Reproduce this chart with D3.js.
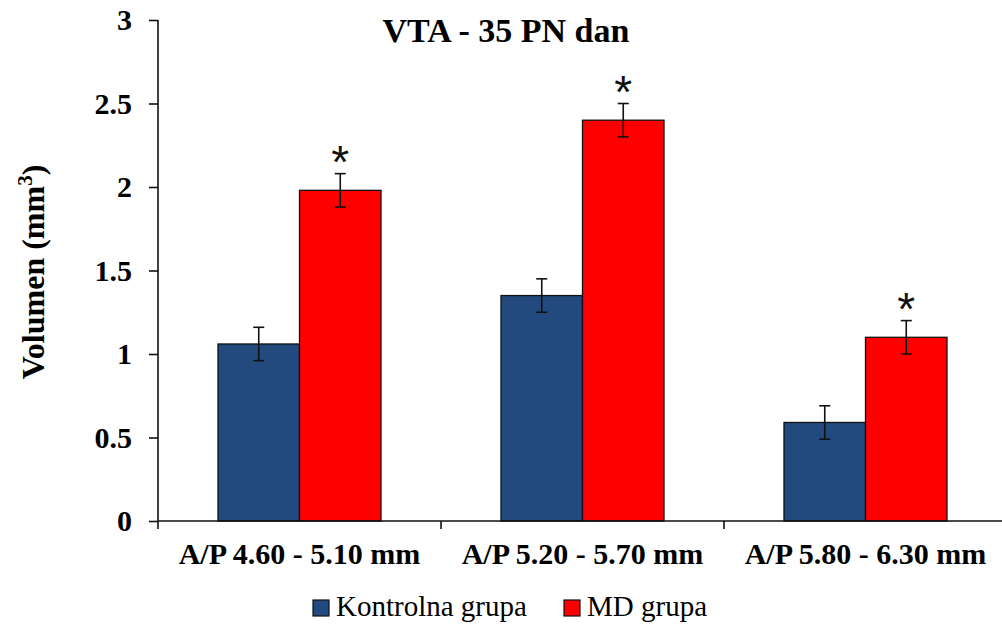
<!DOCTYPE html>
<html>
<head>
<meta charset="utf-8">
<script src="https://cdn.jsdelivr.net/npm/d3@7"></script>
<style>
  html, body { margin: 0; padding: 0; background: #fff; }
  svg { display: block; }
</style>
</head>
<body>
<svg id="chart" width="1002" height="624"></svg>
<script>
// Regions along the anterior/posterior axis
const categories = ["A/P 4.60 - 5.10 mm", "A/P 5.20 - 5.70 mm", "A/P 5.80 - 6.30 mm"];
const seriesNames = ["Kontrolna grupa", "MD grupa"];
const seriesColors = ["#234a7e", "#ff0000"];
// Mean volume (mm3) per region
const kontrolnaValues = [1.06, 1.35, 0.59];
const mdValues = [1.98, 2.40, 1.10];
// Error (± SEM)
const kontrolnaErrors = [0.10, 0.10, 0.10];
const mdErrors = [0.10, 0.10, 0.10];
// Significance marks on the MD group
const mdSignificant = [true, true, true];
const yTicks = [0, 0.5, 1, 1.5, 2, 2.5, 3];

const SERIF = "'Liberation Serif', 'Times New Roman', Times, 'DejaVu Serif', serif";

const rows = categories.map((c, i) => ({
  category: c,
  bars: [
    { series: seriesNames[0], value: kontrolnaValues[i], err: kontrolnaErrors[i], sig: false, color: seriesColors[0] },
    { series: seriesNames[1], value: mdValues[i], err: mdErrors[i], sig: mdSignificant[i], color: seriesColors[1] }
  ]
}));

const svg = d3.select("#chart");
const plotLeft = 158, plotBottom = 521, plotTop = 20;

const x0 = d3.scaleBand().domain(categories).range([plotLeft, 1007]).paddingInner(0).paddingOuter(0);
const x1 = d3.scaleBand().domain(seriesNames).range([0, x0.bandwidth()]).paddingInner(0).paddingOuter(0.736);
const y = d3.scaleLinear().domain([0, 3]).range([plotBottom, plotTop]);

// Bars
const groups = svg.append("g").selectAll("g")
  .data(rows).join("g")
  .attr("transform", d => `translate(${x0(d.category)},0)`);

groups.selectAll("rect")
  .data(d => d.bars).join("rect")
  .attr("x", d => x1(d.series))
  .attr("y", d => y(d.value))
  .attr("width", x1.bandwidth())
  .attr("height", d => y(0) - y(d.value))
  .attr("fill", d => d.color)
  .attr("stroke", "#111")
  .attr("stroke-width", 1.3);

// Error bars
const capHalf = 5.5;
const eb = groups.selectAll("g.err")
  .data(d => d.bars).join("g").attr("class", "err")
  .attr("stroke", "#111").attr("stroke-width", 1.6);
eb.append("line")
  .attr("x1", d => x1(d.series) + x1.bandwidth() / 2)
  .attr("x2", d => x1(d.series) + x1.bandwidth() / 2)
  .attr("y1", d => y(d.value + d.err))
  .attr("y2", d => y(d.value - d.err));
eb.append("line")
  .attr("x1", d => x1(d.series) + x1.bandwidth() / 2 - capHalf)
  .attr("x2", d => x1(d.series) + x1.bandwidth() / 2 + capHalf)
  .attr("y1", d => y(d.value + d.err))
  .attr("y2", d => y(d.value + d.err));
eb.append("line")
  .attr("x1", d => x1(d.series) + x1.bandwidth() / 2 - capHalf)
  .attr("x2", d => x1(d.series) + x1.bandwidth() / 2 + capHalf)
  .attr("y1", d => y(d.value - d.err))
  .attr("y2", d => y(d.value - d.err));

// Significance asterisks
groups.selectAll("text.sig")
  .data(d => d.bars.filter(b => b.sig)).join("text").attr("class", "sig")
  .attr("x", d => x1(d.series) + x1.bandwidth() / 2)
  .attr("y", d => y(d.value + d.err) + 4)
  .attr("text-anchor", "middle")
  .style("font-family", "'Liberation Sans', Arial, sans-serif")
  .style("font-size", "46px")
  .style("fill", "#111")
  .text("*");

// Y axis
const yAxis = svg.append("g")
  .attr("transform", `translate(${plotLeft},0)`)
  .call(d3.axisLeft(y).tickValues(yTicks).tickSize(9).tickPadding(17).tickFormat(d3.format("")));
yAxis.attr("font-family", null).attr("font-size", null);
yAxis.select(".domain").attr("d", `M0,${plotTop}V${plotBottom}`).attr("stroke", "#111").attr("stroke-width", 1.6);
yAxis.selectAll(".tick line").attr("stroke", "#111").attr("stroke-width", 1.6);
yAxis.selectAll(".tick text")
  .style("font-family", SERIF)
  .style("font-size", "30px").style("font-weight", "bold").style("fill", "#000");

// X axis: ticks at category boundaries
const boundaries = categories.map(c => x0(c)).concat([x0(categories[categories.length - 1]) + x0.bandwidth()]);
const xAxisG = svg.append("g").attr("transform", `translate(0,${plotBottom})`);
xAxisG.append("line").attr("x1", plotLeft).attr("x2", 1002).attr("y1", 0).attr("y2", 0)
  .attr("stroke", "#111").attr("stroke-width", 1.6);
xAxisG.selectAll("line.tk").data(boundaries).join("line").attr("class", "tk")
  .attr("x1", d => d).attr("x2", d => d).attr("y1", 0).attr("y2", 8)
  .attr("stroke", "#111").attr("stroke-width", 1.6);
xAxisG.selectAll("text").data(categories).join("text")
  .attr("x", d => x0(d) + x0.bandwidth() / 2)
  .attr("y", 43)
  .attr("text-anchor", "middle")
  .style("font-family", SERIF)
  .style("font-size", "30px").style("font-weight", "bold")
  .text(d => d);

// Title
svg.append("text")
  .attr("x", 506).attr("y", 42)
  .attr("text-anchor", "middle")
  .style("font-family", SERIF)
  .style("font-size", "34px").style("font-weight", "bold")
  .text("VTA - 35 PN dan");

// Y axis label
const yl = svg.append("text")
  .attr("transform", "translate(44,272) rotate(-90)")
  .attr("text-anchor", "middle")
  .style("font-family", SERIF)
  .style("font-size", "32px").style("font-weight", "bold");
yl.append("tspan").text("Volumen (mm");
yl.append("tspan").attr("dy", -12).style("font-size", "21px").text("3");
yl.append("tspan").attr("dy", 12).text(")");

// Legend
const legendItems = [
  { name: seriesNames[0], color: seriesColors[0], x: 313 },
  { name: seriesNames[1], color: seriesColors[1], x: 564 }
];
const lg = svg.append("g").selectAll("g").data(legendItems).join("g")
  .attr("transform", d => `translate(${d.x},600)`);
lg.append("rect").attr("width", 16).attr("height", 16)
  .attr("fill", d => d.color).attr("stroke", "#111").attr("stroke-width", 1.2);
lg.append("text").attr("x", 23).attr("y", 16)
  .style("font-family", SERIF)
  .style("font-size", "29px")
  .text(d => d.name);
</script>
</body>
</html>
